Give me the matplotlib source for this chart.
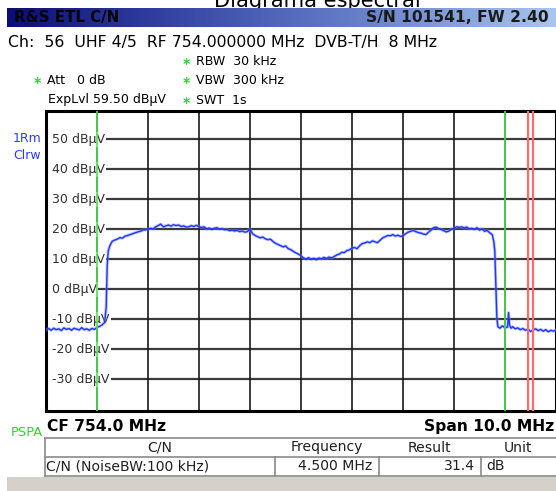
import numpy as np
import matplotlib
matplotlib.use("Agg")
import matplotlib.pyplot as plt
from matplotlib.colors import LinearSegmentedColormap

W, H = 556, 491

# trace (MHz, dBuV)
freq_mhz = [749.00, 749.05, 749.10, 749.15, 749.20, 749.25, 749.30, 749.35, 749.40, 749.45,
            749.50, 749.55, 749.60, 749.65, 749.70, 749.75, 749.80, 749.85, 749.90, 749.95,
            750.00, 750.05, 750.10, 750.15, 750.18, 750.20, 750.22, 750.25, 750.30, 750.35,
            750.40, 750.45, 750.50, 750.55, 750.60, 750.65, 750.70, 750.75, 750.80, 750.85,
            750.90, 750.95, 751.00, 751.05, 751.10, 751.15, 751.20, 751.25, 751.30, 751.35,
            751.40, 751.45, 751.50, 751.55, 751.60, 751.65, 751.70, 751.75, 751.80, 751.85,
            751.90, 751.95, 752.00, 752.05, 752.10, 752.15, 752.20, 752.25, 752.30, 752.35,
            752.40, 752.45, 752.50, 752.55, 752.60, 752.65, 752.70, 752.75, 752.80, 752.85,
            752.90, 752.95, 753.00, 753.05, 753.10, 753.15, 753.20, 753.25, 753.30, 753.35,
            753.40, 753.45, 753.50, 753.55, 753.60, 753.65, 753.70, 753.75, 753.80, 753.85,
            753.90, 753.95, 754.00, 754.05, 754.10, 754.15, 754.20, 754.25, 754.30, 754.35,
            754.40, 754.45, 754.50, 754.55, 754.60, 754.65, 754.70, 754.75, 754.80, 754.85,
            754.90, 754.95, 755.00, 755.05, 755.10, 755.15, 755.20, 755.25, 755.30, 755.35,
            755.40, 755.45, 755.50, 755.55, 755.60, 755.65, 755.70, 755.75, 755.80, 755.85,
            755.90, 755.95, 756.00, 756.05, 756.10, 756.15, 756.20, 756.25, 756.30, 756.35,
            756.40, 756.45, 756.50, 756.55, 756.60, 756.65, 756.70, 756.75, 756.80, 756.85,
            756.90, 756.95, 757.00, 757.05, 757.10, 757.15, 757.20, 757.25, 757.30, 757.35,
            757.40, 757.45, 757.50, 757.55, 757.60, 757.65, 757.70, 757.75, 757.78, 757.80,
            757.82, 757.84, 757.86, 757.90, 757.95, 758.00, 758.05, 758.07, 758.09, 758.12,
            758.15, 758.20, 758.25, 758.30, 758.35, 758.40, 758.45, 758.50, 758.55, 758.60,
            758.65, 758.70, 758.75, 758.80, 758.85, 758.90, 758.95, 759.00]
level_dbuv = [-13.5, -13.0, -13.6, -12.9, -13.4, -13.1, -13.7, -12.8, -13.3, -13.0,
              -13.6, -12.9, -13.2, -13.5, -12.7, -13.4, -13.1, -13.6, -13.0, -13.3,
              -12.6, -12.3, -11.8, -11.0, -6.0, 8.0, 12.8, 14.5, 16.1, 16.5,
              16.8, 17.3, 17.1, 17.8, 18.0, 18.3, 18.6, 18.9, 19.2, 19.4,
              19.8, 19.9, 20.1, 20.4, 20.2, 20.9, 21.3, 21.8, 20.9, 21.2,
              21.5, 21.1, 21.6, 21.3, 21.5, 21.0, 21.2, 20.8, 20.9, 21.3,
              21.0, 21.4, 20.9, 20.7, 20.9, 20.2, 20.5, 20.0, 20.4, 20.6,
              20.1, 20.3, 19.9, 20.0, 19.6, 19.8, 19.5, 19.7, 19.3, 19.5,
              19.1, 19.3, 20.2, 18.6, 18.0, 17.6, 17.2, 17.5, 16.9, 16.6,
              16.8, 16.0, 15.4, 15.0, 14.6, 14.2, 14.5, 13.6, 13.3, 12.7,
              12.2, 11.8, 11.2, 10.5, 10.1, 10.6, 10.0, 10.4, 9.9, 10.5,
              10.2, 10.7, 10.3, 10.8, 10.5, 11.0, 11.5, 11.8, 12.4, 12.3,
              13.0, 13.2, 13.8, 14.0, 13.6, 14.6, 15.3, 15.5, 15.9, 15.6,
              16.2, 15.9, 15.6, 16.4, 17.2, 17.6, 18.0, 17.9, 18.3, 17.8,
              18.1, 17.7, 17.9, 18.6, 19.1, 19.4, 19.7, 19.3, 19.0, 18.8,
              18.5, 18.3, 19.1, 19.8, 20.6, 20.8, 20.3, 20.0, 19.6, 19.2,
              19.5, 20.1, 20.4, 20.9, 20.7, 20.9, 20.5, 20.8, 20.2, 20.4,
              20.0, 20.6, 19.8, 20.2, 19.4, 19.7, 18.9, 18.3, 16.0, 12.8,
              2.3, -9.3, -12.4, -12.9, -12.1, -12.8, -12.5, -7.7, -12.0, -12.9,
              -12.4, -13.1, -12.8, -13.4, -13.0, -13.6, -13.2, -14.0, -13.5, -13.1,
              -13.7, -13.3, -13.9, -13.4, -14.1, -13.6, -13.9, -13.5]

y_ticks = [50, 40, 30, 20, 10, 0, -10, -20, -30]
x_grid = [750, 751, 752, 753, 754, 755, 756, 757, 758]
green_lines = [750.0, 758.0]
red_lines = [758.45, 758.55]

table_head = ["C/N", "Frequency", "Result", "Unit"]
table_row = ["C/N (NoiseBW:100 kHz)", "4.500 MHz", "31.4", "dB"]

def fx(x):
    return x / W

def fy(y):
    return 1 - y / H

def fs(px):
    return px * 0.72

fig = plt.figure(figsize=(W / 100, H / 100), dpi=100)
fig.patch.set_facecolor("white")

# title, mostly hidden above the top edge (as in the screenshot)
fig.text(fx(317), fy(7), "Diagrama espectral", fontsize=fs(21), ha="center",
         va="baseline", color="black", zorder=-5)

# gradient header bar
bar = fig.add_axes([fx(7), fy(27), fx(549), (27 - 8) / H], zorder=2)
cmap = LinearSegmentedColormap.from_list("hdr", ["#0c0c78", "#3a4aa8", "#6a84cc", "#a8c6ee"])
bar.imshow(np.linspace(0, 1, 256)[None, :], aspect="auto", cmap=cmap, extent=[0, 1, 0, 1])
bar.set_axis_off()
bar.text(0.013, 0.5, "R&S ETL C/N", transform=bar.transAxes, fontsize=fs(15),
         fontweight="bold", va="center", ha="left", color="#050505")
bar.text(0.987, 0.5, "S/N 101541, FW 2.40", transform=bar.transAxes, fontsize=fs(15.5),
         fontweight="bold", va="center", ha="right", color="#1a1a1a")

fig.text(fx(8), fy(43), "Ch:  56  UHF 4/5  RF 754.000000 MHz  DVB-T/H  8 MHz",
         fontsize=fs(15.8), va="center", ha="left")

small = fs(12.5)
green = "#2ed52e"
for sx, sy, label in [(186, 61.5, "RBW  30 kHz"), (37, 80.5, "Att   0 dB"),
                      (186, 80.5, "VBW  300 kHz"), (186, 100, "SWT  1s")]:
    fig.text(fx(sx), fy(sy + 2.5), "*", fontsize=fs(14), fontweight="bold", color=green,
             va="center", ha="center")
    fig.text(fx(sx + 10), fy(sy), label, fontsize=small, va="center", ha="left")
fig.text(fx(48), fy(100), "ExpLvl 59.50 dBµV", fontsize=small, va="center", ha="left")

fig.text(fx(41), fy(139), "1Rm", fontsize=small, color="#2a3cff", ha="right", va="center")
fig.text(fx(41), fy(156), "Clrw", fontsize=small, color="#2a3cff", ha="right", va="center")

# spectrum axes
ax = fig.add_axes([fx(46), fy(411), fx(556 - 46), (411 - 111) / H])
ax.set_xlim(749, 759)
ax.set_ylim(-40.5, 59.5)
ax.set_xticks([])
ax.set_yticks([])
for s in ax.spines.values():
    s.set_linewidth(2.2)
    s.set_color("black")

for v in y_ticks:
    ax.axhline(v, color="#3a3a3a", lw=1.6, zorder=1)
for v in x_grid:
    ax.axvline(v, color="#1a1a1a", lw=1.2, zorder=1)

for v in y_ticks:
    ax.text(749.12, v, f"{v} dBµV", fontsize=small, color="#303030", va="center", ha="left",
            zorder=2, bbox=dict(facecolor="white", edgecolor="none", pad=1.0))
ax.axvspan(749.0, 749.12, color="white", zorder=1.5)

ax.plot(freq_mhz, level_dbuv, color="#7a8cff", lw=2.2, alpha=0.5, zorder=3)
ax.plot(freq_mhz, level_dbuv, color="#1f35ff", lw=1.0, zorder=3.1)

for v in green_lines:
    ax.axvline(v, color="#55dd55", lw=1.2, zorder=4)
for v in red_lines:
    ax.axvline(v, color="#ff6a6a", lw=1.6, zorder=4)

# footer
fig.text(fx(27), fy(432), "PSPA", fontsize=fs(13), color=green, ha="center", va="center")
fig.text(fx(47), fy(426.5), "CF 754.0 MHz", fontsize=fs(15.5), ha="left", va="center",
         fontweight="semibold")
fig.text(fx(554), fy(426.5), "Span 10.0 MHz", fontsize=fs(15.5), ha="right", va="center",
         fontweight="semibold")

# result table
tab = fig.add_axes([0, 0, 1, 1], zorder=3)
tab.set_xlim(0, W)
tab.set_ylim(H, 0)
tab.set_axis_off()
tab.patch.set_alpha(0)
line_c = "#8a8a8a"
for yy in [437.5, 456.5, 476]:
    tab.plot([45, W], [yy, yy], color=line_c, lw=1.2)
tab.plot([45, 45], [437.5, 476], color=line_c, lw=1.2)
for xx in [275, 378.5, 481]:
    tab.plot([xx, xx], [456.5, 476], color=line_c, lw=1.2)
tab.add_patch(plt.Rectangle((7, 476.6), W - 7, H - 476.6, color="#d5d1ca", lw=0))

tfs = fs(14)
head_x = [160, 327, 429, 518]
for hx, t in zip(head_x, table_head):
    tab.text(hx, 447.5, t, fontsize=tfs, ha="center", va="center", color="#202020")
tab.text(46, 466.5, table_row[0], fontsize=tfs, ha="left", va="center", color="#202020")
tab.text(372, 466.5, table_row[1], fontsize=tfs, ha="right", va="center", color="#202020")
tab.text(475, 466.5, table_row[2], fontsize=tfs, ha="right", va="center", color="#202020")
tab.text(486, 466.5, table_row[3], fontsize=tfs, ha="left", va="center", color="#202020")

fig.savefig("out.png", dpi=100)
